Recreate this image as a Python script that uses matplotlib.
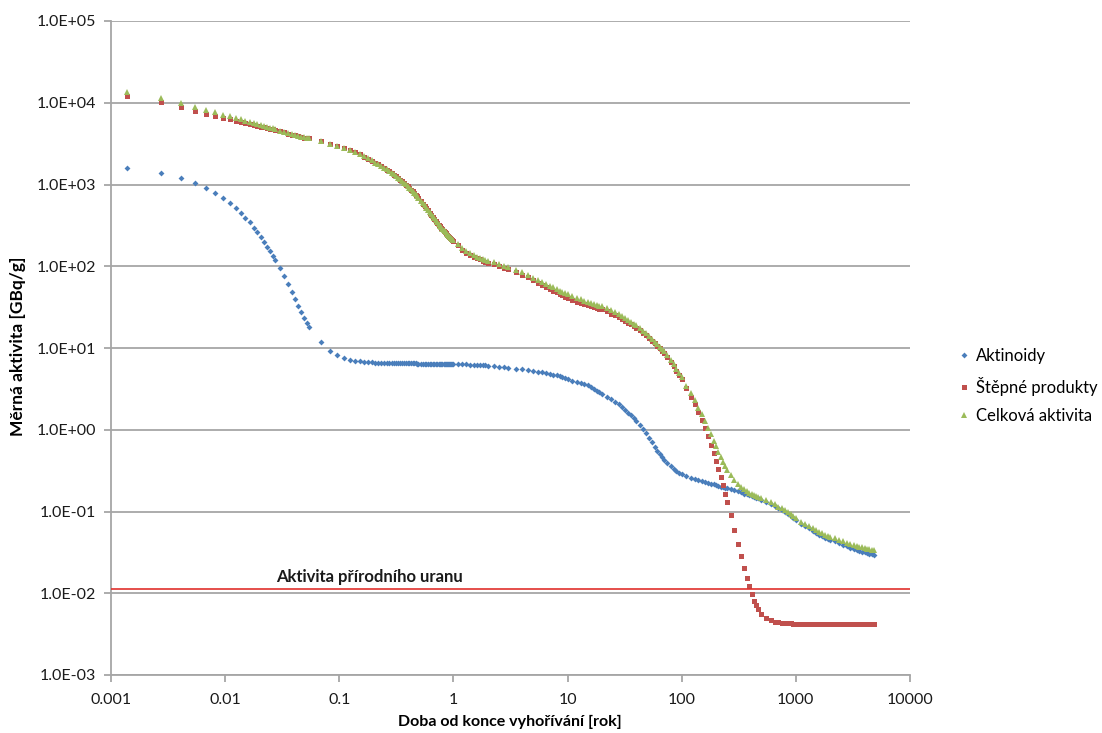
import matplotlib
matplotlib.use("Agg")
import matplotlib.pyplot as plt
from matplotlib.ticker import FixedLocator, NullLocator, FuncFormatter

# time after end of burnup [years]
years = [
    # half-day steps
    0.00137, 0.00274, 0.00411, 0.00548, 0.00685, 0.00822, 0.00959, 0.01096, 0.01233, 0.0137,
    0.01507, 0.01644, 0.01781, 0.01918, 0.02055, 0.02192, 0.02329, 0.02466, 0.02603, 0.0274,
    # one-day steps
    0.0301, 0.0329, 0.0356, 0.0384, 0.0411, 0.0438, 0.0466, 0.0493, 0.0521, 0.0548,
    # five-day steps
    0.0685, 0.0822, 0.0959, 0.1096, 0.1233, 0.137, 0.1507, 0.1644, 0.1781, 0.1918,
    0.2055, 0.2192, 0.2329, 0.2466, 0.2603, 0.274, 0.2877, 0.3014, 0.3151, 0.3288,
    0.3425, 0.3562, 0.3699, 0.3836, 0.3973, 0.411, 0.4247, 0.4384, 0.4521, 0.4658,
    0.4795, 0.4932,
    0.52, 0.54, 0.56, 0.58, 0.60, 0.62, 0.64, 0.66, 0.68, 0.70,
    0.72, 0.74, 0.76, 0.78, 0.80, 0.82, 0.84, 0.86, 0.88, 0.90,
    0.92, 0.94, 0.96, 0.98, 1.0,
    1.1, 1.2, 1.3, 1.4, 1.5, 1.6, 1.7, 1.8, 1.9, 2.0,
    2.25, 2.5, 2.75, 3.0, 3.5, 4.0, 4.5, 5.0, 5.5, 6.0, 6.5, 7.0, 7.5, 8.0, 8.5, 9.0, 9.5, 10,
    11, 12, 13, 14, 15, 16, 17, 18, 19, 20,
    22, 24, 26, 28, 30, 32, 34, 36, 38, 40,
    43, 46, 49, 52, 55, 58, 61, 64, 67, 70,
    75, 80, 85, 90, 95, 100,
    110, 120, 130, 140, 150, 160, 170, 180, 190, 200, 210, 220, 230, 240, 250,
    270, 290, 310, 330, 350, 370, 390, 410, 430, 450, 470, 500,
    550, 600, 650, 700, 750, 800, 850, 900, 950, 1000,
    1100, 1200, 1300, 1400, 1500, 1600, 1700, 1800, 1900, 2000,
    2200, 2400, 2600, 2800, 3000, 3200, 3400, 3600, 3800, 4000, 4200, 4400, 4600, 4800,
]

# specific activity [GBq/g]
aktinoidy = [
    1580, 1375, 1214, 1055, 917, 789, 686, 595, 517, 453,
    391, 343, 297, 261, 227, 199, 174, 154, 135, 119,
    95, 75, 60, 48.6, 39.6, 32.8, 27.5, 23.6, 20.5, 18.0,
    11.7, 9.25, 8.1, 7.53, 7.18, 6.98, 6.84, 6.76, 6.71, 6.67,
    6.64, 6.62, 6.60, 6.58, 6.57, 6.56, 6.55, 6.54, 6.53, 6.52,
    6.52, 6.51, 6.50, 6.50, 6.49, 6.49, 6.48, 6.48, 6.47, 6.47,
    6.46, 6.46,
    6.45, 6.44, 6.44, 6.43, 6.43, 6.42, 6.42, 6.41, 6.41, 6.40,
    6.40, 6.40, 6.39, 6.39, 6.38, 6.38, 6.38, 6.37, 6.37, 6.37,
    6.36, 6.36, 6.36, 6.35, 6.35,
    6.33, 6.31, 6.29, 6.27, 6.24, 6.21, 6.18, 6.15, 6.12, 6.08,
    6.0, 5.9, 5.82, 5.74, 5.6, 5.47, 5.36, 5.25, 5.14, 5.04, 4.94, 4.84, 4.73, 4.62, 4.5, 4.38, 4.27, 4.15,
    4.0, 3.87, 3.74, 3.62, 3.48, 3.33, 3.18, 3.02, 2.88, 2.76,
    2.55, 2.37, 2.2, 2.04, 1.9, 1.75, 1.62, 1.5, 1.38, 1.27,
    1.14, 1.01, 0.9, 0.79, 0.7, 0.62, 0.55, 0.5, 0.46, 0.43,
    0.39, 0.36, 0.335, 0.315, 0.298, 0.285,
    0.27, 0.258, 0.249, 0.242, 0.236, 0.23, 0.225, 0.22, 0.215, 0.21, 0.206, 0.202, 0.198, 0.195, 0.192,
    0.186, 0.181, 0.176, 0.171, 0.166, 0.162, 0.158, 0.154, 0.151, 0.148, 0.145, 0.14,
    0.132, 0.125, 0.118, 0.111, 0.105, 0.099, 0.094, 0.088, 0.083, 0.079,
    0.071, 0.066, 0.062, 0.058, 0.055, 0.052, 0.05, 0.048, 0.0465, 0.045,
    0.0430, 0.0408, 0.0390, 0.0374, 0.0361, 0.0350, 0.0340, 0.0331, 0.0323, 0.0316, 0.0310, 0.0305, 0.0300, 0.0296,
]

stepne_produkty = [
    12080, 10090, 8770, 7980, 7330, 6860, 6480, 6240, 6010, 5840,
    5620, 5500, 5370, 5240, 5100, 5000, 4900, 4810, 4720, 4640,
    4480, 4330, 4200, 4080, 3980, 3880, 3800, 3740, 3700, 3660,
    3380, 3140, 2930, 2770, 2620, 2475, 2330, 2200, 2075, 1960,
    1850, 1760, 1675, 1600, 1525, 1455, 1390, 1325, 1265, 1205,
    1150, 1098, 1048, 1000, 954, 910, 868, 828, 790, 753,
    719, 686,
    625, 585, 548, 513, 482, 453, 426, 401, 378, 357,
    338, 321, 308, 295, 283, 272, 262, 253, 244, 236,
    229, 222, 215, 209, 203,
    182, 160, 147, 138, 131, 125, 121, 117, 114, 111,
    106, 101, 96.5, 92, 85, 78.5, 73, 67.5, 62.5, 58.5, 55, 52.5, 50.3, 48, 46, 44, 42.5, 41,
    39, 37, 35.8, 34.5, 33.3, 32.3, 31.5, 30.8, 30.2, 29.6,
    28.0, 26.4, 25.0, 23.7, 22.5, 21.4, 20.4, 19.4, 18.5, 17.6,
    16.4, 15.3, 14.3, 13.3, 12.3, 11.4, 10.6, 9.9, 9.3, 8.7,
    7.7, 6.8, 6.0, 5.3, 4.7, 4.15,
    3.2, 2.55, 2.05, 1.63, 1.3, 1.04, 0.83, 0.66, 0.52, 0.415, 0.33, 0.262, 0.208, 0.165, 0.13,
    0.09, 0.06, 0.04, 0.0285, 0.0205, 0.0155, 0.0122, 0.0097, 0.0081, 0.0071, 0.0064, 0.0056,
    0.0050, 0.0047, 0.0045, 0.0044, 0.00435, 0.0043, 0.00428, 0.00427, 0.00426, 0.00425,
    0.00424, 0.00424, 0.00423, 0.00423, 0.00422, 0.00422, 0.00422, 0.00421, 0.00421, 0.00421,
    0.0042, 0.0042, 0.0042, 0.0042, 0.0042, 0.00419, 0.00419, 0.00419, 0.00419, 0.00418, 0.00418, 0.00418, 0.00418, 0.00418,
]

celkova_aktivita = [
    13700, 11500, 9950, 8950, 8230, 7630, 7180, 6840, 6530, 6290,
    6010, 5840, 5670, 5500, 5330, 5200, 5070, 4960, 4860, 4760,
    4575, 4405, 4260, 4130, 4020, 3915, 3830, 3765, 3720, 3680,
    3392, 3149, 2938, 2778, 2627, 2482, 2337, 2207, 2082, 1967,
    1857, 1767, 1682, 1607, 1532, 1462, 1397, 1332, 1272, 1212,
    1157, 1105, 1055, 1006, 960, 916, 874, 834, 796, 759,
    725, 692,
    631, 591, 554, 519, 488, 459, 432, 407, 384, 363,
    344, 327, 314, 301, 289, 278, 268, 259, 250, 242,
    235, 228, 221, 215, 209,
    188, 166, 153, 144, 137, 131, 127, 123, 120, 117,
    112, 107, 102, 97.7, 90.6, 84, 78.4, 72.8, 67.6, 63.5, 59.9, 57.3, 55, 52.6, 50.5, 48.4, 46.8, 45.2,
    43, 40.9, 39.5, 38.1, 36.8, 35.6, 34.7, 33.8, 33.1, 32.4,
    30.6, 28.8, 27.2, 25.7, 24.4, 23.2, 22.0, 20.9, 19.9, 18.9,
    17.5, 16.3, 15.2, 14.1, 13.0, 12.0, 11.2, 10.4, 9.8, 9.1,
    8.1, 7.2, 6.3, 5.6, 5.0, 4.4,
    3.47, 2.81, 2.30, 1.87, 1.54, 1.27, 1.06, 0.88, 0.735, 0.625, 0.536, 0.464, 0.406, 0.36, 0.322,
    0.276, 0.241, 0.216, 0.2, 0.187, 0.178, 0.17, 0.164, 0.159, 0.155, 0.151, 0.146,
    0.137, 0.130, 0.123, 0.115, 0.109, 0.103, 0.098, 0.092, 0.087, 0.083,
    0.075, 0.070, 0.066, 0.062, 0.059, 0.056, 0.054, 0.052, 0.0507, 0.049,
    0.0472, 0.0450, 0.0432, 0.0416, 0.0403, 0.0392, 0.0382, 0.0373, 0.0365, 0.0358, 0.0352, 0.0347, 0.0342, 0.0338,
]

prirodni_uran = 0.0113  # activity of natural uranium [GBq/g]

x_ticks = [0.001, 0.01, 0.1, 1, 10, 100, 1000, 10000]
x_tick_labels = ["0.001", "0.01", "0.1", "1", "10", "100", "1000", "10000"]
y_ticks = [1e-3, 1e-2, 1e-1, 1e0, 1e1, 1e2, 1e3, 1e4, 1e5]

assert len(years) == len(aktinoidy) == len(stepne_produkty) == len(celkova_aktivita)

plt.rcParams['font.family'] = ['Lato', 'DejaVu Sans']

W, H = 1102, 733
fig = plt.figure(figsize=(W / 100, H / 100), dpi=100)
ax = fig.add_axes([111 / W, 1 - 675 / H, (910 - 111) / W, (675 - 21) / H])
ax.set_xscale('log')
ax.set_yscale('log')
ax.set_xlim(1e-3, 1e4)
ax.set_ylim(1e-3, 1e5)

grey = '#a6a6a6'
ax.yaxis.grid(True, color=grey, lw=1.3)
ax.set_axisbelow(True)
for side in ['top', 'right']:
    ax.spines[side].set_visible(False)
for side in ['left', 'bottom']:
    ax.spines[side].set_color(grey)
    ax.spines[side].set_linewidth(1.3)

ax.xaxis.set_major_locator(FixedLocator(x_ticks))
ax.xaxis.set_minor_locator(NullLocator())
ax.set_xticklabels(x_tick_labels)
ax.yaxis.set_major_locator(FixedLocator(y_ticks))
ax.yaxis.set_minor_locator(NullLocator())
ax.yaxis.set_major_formatter(FuncFormatter(lambda v, pos: f"{v:.1E}"))
ax.tick_params(direction='out', length=5, width=1.3, color=grey,
               labelsize=11.5, labelcolor='#1a1a1a')
ax.tick_params(axis='x', pad=8)
ax.tick_params(axis='y', pad=6)

ax.plot(years, aktinoidy, linestyle='none', marker='D', ms=3.0, mew=0,
        color='#4a7ebb', label='Aktinoidy')
ax.plot(years, stepne_produkty, linestyle='none', marker='s', ms=3.6, mew=0,
        color='#c0504d', label='Štěpné produkty')
ax.plot(years, celkova_aktivita, linestyle='none', marker='^', ms=4.2, mew=0,
        color='#9bbb59', label='Celková aktivita')

ax.axhline(prirodni_uran, color='#e0302c', lw=1.2, zorder=3)
ax.text(0.028, 0.0139, 'Aktivita přírodního uranu', fontsize=12,
        fontweight='bold', va='baseline', ha='left', color='#1a1a1a')

ax.legend(loc='upper left', bbox_to_anchor=(961 / W, 1 - 348 / H),
          bbox_transform=fig.transFigure, frameon=False, fontsize=12,
          handlelength=0.4, handletextpad=0.5, labelspacing=0.75,
          borderaxespad=0, borderpad=0)

fig.text(18 / W, 1 - 346 / H, 'Měrná aktivita [GBq/g]', rotation=90,
         ha='center', va='center', fontsize=12.5, fontweight='bold')
fig.text(510 / W, 1 - 722 / H, 'Doba od konce vyhořívání [rok]',
         ha='center', va='center', fontsize=11.5, fontweight='bold')

fig.savefig('out.png', dpi=100)
